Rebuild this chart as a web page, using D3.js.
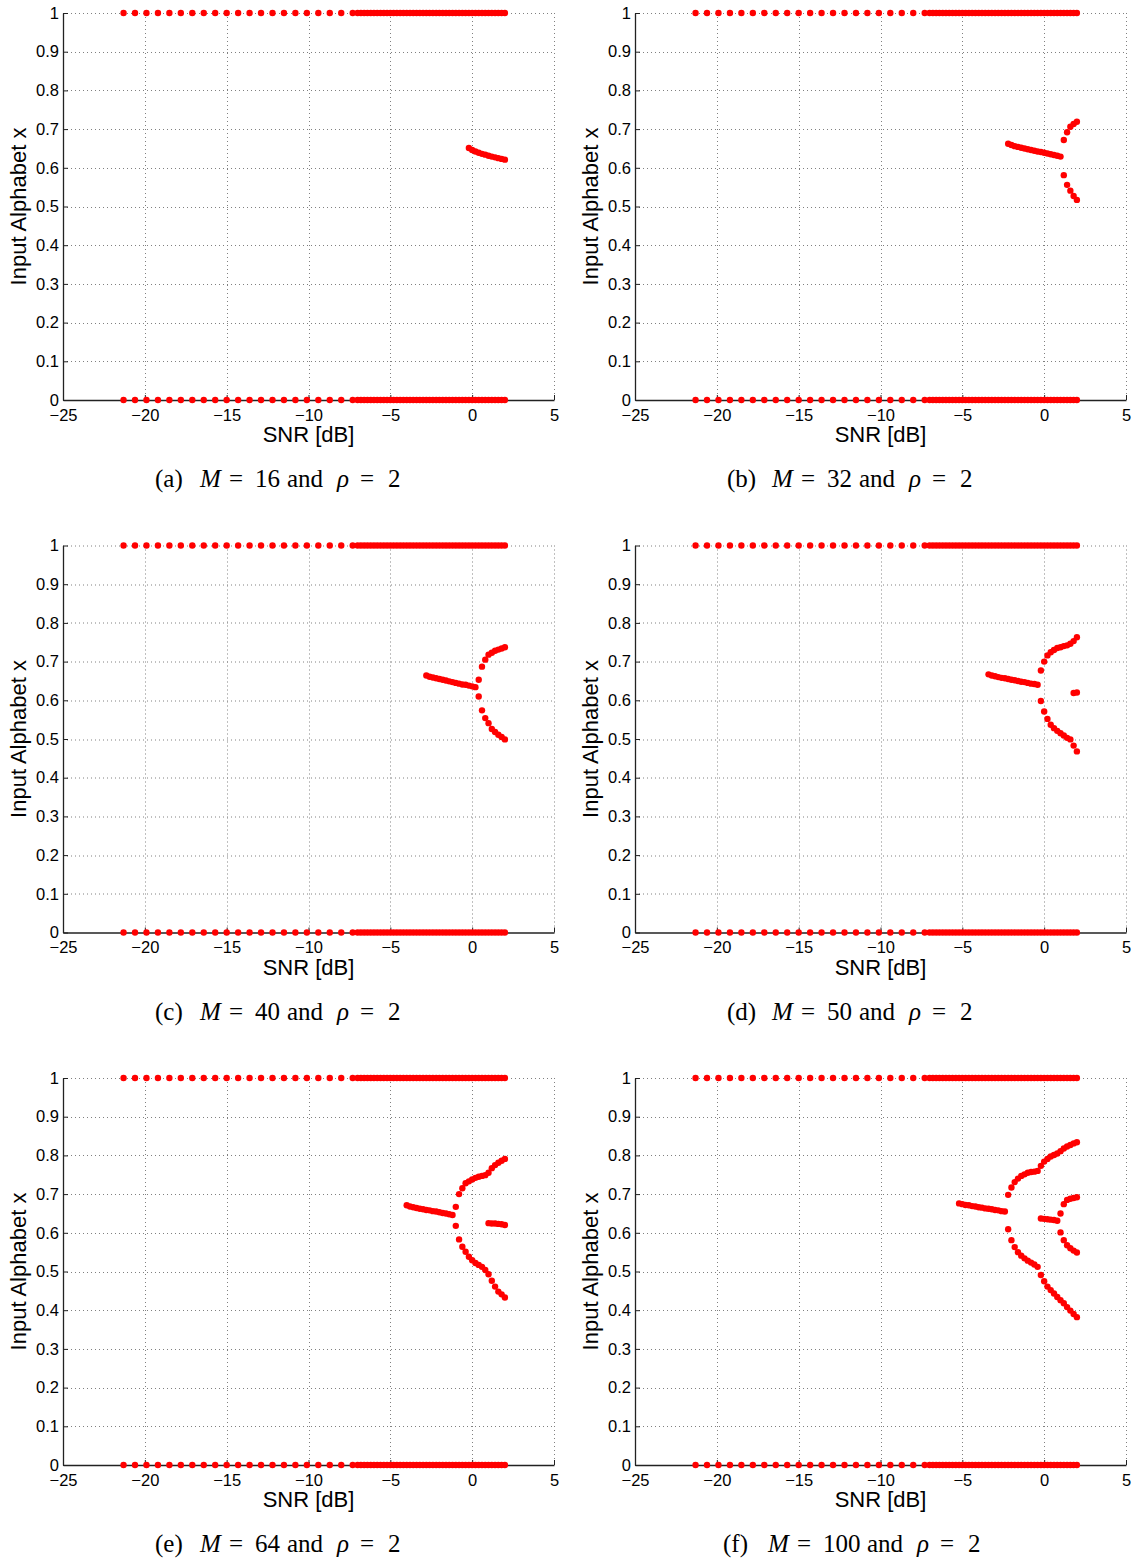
<!DOCTYPE html>
<html>
<head>
<meta charset="utf-8">
<script src="https://cdn.jsdelivr.net/npm/d3@7"></script>
<style>
  html, body { margin: 0; padding: 0; background: #fff; }
  svg { display: block; }
</style>
</head>
<body>
<svg id="chart" width="1138" height="1562"></svg>
<script>
// ---------------- DATA ----------------
// SNR grid [dB]: sparse part and dense part (points at x = 0 and x = 1 in every panel)
const snrSparse = [-21.3,-20.6,-19.9,-19.2,-18.5,-17.8,-17.1,-16.4,-15.7,-15.0,-14.3,-13.6,-12.9,-12.2,-11.5,-10.8,-10.1,-9.4,-8.7,-8.0,-7.3];
const snrDense = [-7.0,-6.8,-6.6,-6.4,-6.2,-6.0,-5.8,-5.6,-5.4,-5.2,-5.0,-4.8,-4.6,-4.4,-4.2,-4.0,-3.8,-3.6,-3.4,-3.2,-3.0,-2.8,-2.6,-2.4,-2.2,-2.0,-1.8,-1.6,-1.4,-1.2,-1.0,-0.8,-0.6,-0.4,-0.2,0.0,0.2,0.4,0.6,0.8,1.0,1.2,1.4,1.6,1.8,2.0];
const boundaryLevels = [0, 1];

// Interior mass points [snr, x]
// (a) M = 16
const m16Mid = [[-0.2,0.651],[0.0,0.646],[0.2,0.642],[0.4,0.639],[0.6,0.636],[0.8,0.634],[1.0,0.631],[1.2,0.629],[1.4,0.627],[1.6,0.625],[1.8,0.623],[2.0,0.621]];
// (b) M = 32
const m32Mid = [[-2.2,0.662],[-2.0,0.659],[-1.8,0.656],[-1.6,0.654],[-1.4,0.652],[-1.2,0.650],[-1.0,0.648],[-0.8,0.646],[-0.6,0.644],[-0.4,0.642],[-0.2,0.641],[0.0,0.639],[0.2,0.637],[0.4,0.635],[0.6,0.633],[0.8,0.631],[1.0,0.629]];
const m32Up = [[1.2,0.672],[1.4,0.692],[1.6,0.706],[1.8,0.713],[2.0,0.719]];
const m32Low = [[1.2,0.581],[1.4,0.556],[1.6,0.541],[1.8,0.527],[2.0,0.517]];
// (c) M = 40
const m40Mid = [[-2.8,0.664],[-2.6,0.661],[-2.4,0.659],[-2.2,0.657],[-2.0,0.655],[-1.8,0.653],[-1.6,0.651],[-1.4,0.649],[-1.2,0.647],[-1.0,0.645],[-0.8,0.643],[-0.6,0.641],[-0.4,0.640],[-0.2,0.638],[0.0,0.636],[0.2,0.634]];
const m40Up = [[0.4,0.653],[0.6,0.687],[0.8,0.705],[1.0,0.718],[1.2,0.723],[1.4,0.728],[1.6,0.731],[1.8,0.734],[2.0,0.737]];
const m40Low = [[0.4,0.610],[0.6,0.574],[0.8,0.554],[1.0,0.541],[1.2,0.526],[1.4,0.518],[1.6,0.511],[1.8,0.505],[2.0,0.499]];
// (d) M = 50
const m50Mid = [[-3.4,0.667],[-3.2,0.664],[-3.0,0.662],[-2.8,0.660],[-2.6,0.658],[-2.4,0.657],[-2.2,0.655],[-2.0,0.653],[-1.8,0.652],[-1.6,0.650],[-1.4,0.648],[-1.2,0.647],[-1.0,0.645],[-0.8,0.643],[-0.6,0.642],[-0.4,0.640]];
const m50Up = [[-0.2,0.677],[0.0,0.700],[0.2,0.716],[0.4,0.724],[0.6,0.730],[0.8,0.735],[1.0,0.737],[1.2,0.740],[1.4,0.742],[1.6,0.746],[1.8,0.753],[2.0,0.763]];
const m50Inner = [[1.8,0.619],[2.0,0.620]];
const m50Low = [[-0.2,0.598],[0.0,0.571],[0.2,0.552],[0.4,0.537],[0.6,0.528],[0.8,0.521],[1.0,0.515],[1.2,0.509],[1.4,0.503],[1.6,0.499],[1.8,0.483],[2.0,0.468]];
// (e) M = 64
const m64Mid = [[-4.0,0.671],[-3.8,0.668],[-3.6,0.666],[-3.4,0.664],[-3.2,0.662],[-3.0,0.661],[-2.8,0.659],[-2.6,0.658],[-2.4,0.656],[-2.2,0.655],[-2.0,0.653],[-1.8,0.651],[-1.6,0.650],[-1.4,0.648],[-1.2,0.646]];
const m64Up = [[-1.0,0.667],[-0.8,0.700],[-0.6,0.715],[-0.4,0.728],[-0.2,0.733],[0.0,0.738],[0.2,0.742],[0.4,0.745],[0.6,0.747],[0.8,0.749],[1.0,0.755],[1.2,0.767],[1.4,0.775],[1.6,0.781],[1.8,0.786],[2.0,0.791]];
const m64Inner = [[1.0,0.625],[1.2,0.624],[1.4,0.624],[1.6,0.623],[1.8,0.622],[2.0,0.620]];
const m64Low = [[-1.0,0.618],[-0.8,0.583],[-0.6,0.564],[-0.4,0.551],[-0.2,0.538],[0.0,0.529],[0.2,0.522],[0.4,0.517],[0.6,0.512],[0.8,0.504],[1.0,0.493],[1.2,0.476],[1.4,0.461],[1.6,0.448],[1.8,0.441],[2.0,0.433]];
// (f) M = 100
const m100Mid = [[-5.2,0.676],[-5.0,0.674],[-4.8,0.672],[-4.6,0.671],[-4.4,0.669],[-4.2,0.668],[-4.0,0.666],[-3.8,0.665],[-3.6,0.663],[-3.4,0.662],[-3.2,0.661],[-3.0,0.659],[-2.8,0.658],[-2.6,0.656],[-2.4,0.655]];
const m100Up = [[-2.2,0.698],[-2.0,0.717],[-1.8,0.731],[-1.6,0.740],[-1.4,0.747],[-1.2,0.751],[-1.0,0.755],[-0.8,0.757],[-0.6,0.758],[-0.4,0.760],[-0.2,0.773],[0.0,0.784],[0.2,0.791],[0.4,0.797],[0.6,0.801],[0.8,0.805],[1.0,0.811],[1.2,0.818],[1.4,0.823],[1.6,0.827],[1.8,0.831],[2.0,0.834]];
const m100Inner = [[-0.2,0.637],[0.0,0.636],[0.2,0.635],[0.4,0.634],[0.6,0.633],[0.8,0.631]];
const m100InnerUp = [[1.0,0.650],[1.2,0.674],[1.4,0.685],[1.6,0.688],[1.8,0.690],[2.0,0.692]];
const m100InnerLow = [[1.0,0.601],[1.2,0.581],[1.4,0.568],[1.6,0.560],[1.8,0.554],[2.0,0.549]];
const m100LowMid = [[-2.2,0.609],[-2.0,0.581],[-1.8,0.563],[-1.6,0.550],[-1.4,0.541],[-1.2,0.534],[-1.0,0.528],[-0.8,0.523],[-0.6,0.518],[-0.4,0.512]];
const m100Low = [[-0.2,0.491],[0.0,0.475],[0.2,0.461],[0.4,0.452],[0.6,0.443],[0.8,0.434],[1.0,0.426],[1.2,0.418],[1.4,0.408],[1.6,0.399],[1.8,0.390],[2.0,0.382]];

// Panel descriptors
const panelTags = ["a","b","c","d","e","f"];
const panelM = [16, 32, 40, 50, 64, 100];
const panelRho = [2, 2, 2, 2, 2, 2];
const panelBranches = [
  [m16Mid],
  [m32Mid, m32Up, m32Low],
  [m40Mid, m40Up, m40Low],
  [m50Mid, m50Up, m50Inner, m50Low],
  [m64Mid, m64Up, m64Inner, m64Low],
  [m100Mid, m100Up, m100Inner, m100InnerUp, m100InnerLow, m100LowMid, m100Low]
];

// Axes ticks
const xTicks = [-25, -20, -15, -10, -5, 0, 5];
const yTicks = [0, 0.1, 0.2, 0.3, 0.4, 0.5, 0.6, 0.7, 0.8, 0.9, 1];
const xLabel = "SNR [dB]";
const yLabel = "Input Alphabet x";

// ---------------- LAYOUT ----------------
const W = 491, H = 387;
const colX = [63, 635];
const rowY = [13, 545.5, 1078];
const sansFont = "'Liberation Sans', Arial, Helvetica, sans-serif";
const serifFont = "'Liberation Serif', 'Times New Roman', serif";
const red = "#ff0000";
const dotR = 3.2;

const x = d3.scaleLinear().domain([-25, 5]).range([0, W]);
const y = d3.scaleLinear().domain([0, 1]).range([H, 0]);

const svg = d3.select("#chart");

const fmtX = d => (d < 0 ? "\u2212" + Math.abs(d) : String(d));
const fmtY = d => (d === 0 ? "0" : d === 1 ? "1" : d3.format(".1f")(d));

panelTags.forEach((tag, i) => {
  const col = i % 2, row = Math.floor(i / 2);
  const g = svg.append("g").attr("transform", `translate(${colX[col]},${rowY[row]})`);

  // grid (dotted)
  const grid = g.append("g").attr("class", "grid");
  grid.selectAll("line.gx").data(xTicks.filter(d => d !== -25)).enter().append("line")
    .attr("x1", d => Math.round(x(d)) + 0.5).attr("x2", d => Math.round(x(d)) + 0.5)
    .attr("y1", 0).attr("y2", H)
    .attr("stroke", "#808080").attr("stroke-width", 1).attr("stroke-dasharray", "1,3");
  grid.selectAll("line.gy").data(yTicks.filter(d => d !== 0)).enter().append("line")
    .attr("x1", 0).attr("x2", W)
    .attr("y1", d => Math.round(y(d)) + 0.5).attr("y2", d => Math.round(y(d)) + 0.5)
    .attr("stroke", "#808080").attr("stroke-width", 1).attr("stroke-dasharray", "1,3");

  // axes
  const xAxis = d3.axisBottom(x).tickValues(xTicks).tickFormat(fmtX).tickSizeInner(-5).tickSizeOuter(0).tickPadding(9);
  const yAxis = d3.axisLeft(y).tickValues(yTicks).tickFormat(fmtY).tickSizeInner(-5).tickSizeOuter(0).tickPadding(4);

  const gx = g.append("g").attr("transform", `translate(0,${H})`).call(xAxis);
  const gy = g.append("g").call(yAxis);
  [gx, gy].forEach(a => {
    a.select(".domain").attr("stroke", "#222").attr("stroke-width", 1.3);
    a.selectAll(".tick line").attr("stroke", "#222");
    a.selectAll(".tick text").attr("fill", "#000").style("font-family", sansFont).style("font-size", "16.5px");
  });

  // boundary points at x=0 and x=1
  const dots = g.append("g");
  boundaryLevels.forEach(lv => {
    dots.selectAll(null).data(snrSparse.concat(snrDense)).enter().append("circle")
      .attr("cx", d => x(d)).attr("cy", y(lv)).attr("r", dotR).attr("fill", red);
  });
  // interior branches
  panelBranches[i].forEach(br => {
    dots.selectAll(null).data(br).enter().append("circle")
      .attr("cx", d => x(d[0])).attr("cy", d => y(d[1])).attr("r", dotR).attr("fill", red);
  });

  // axis labels
  g.append("text").attr("x", W / 2).attr("y", H + 42)
    .attr("text-anchor", "middle").style("font-family", sansFont).style("font-size", "22px")
    .text(xLabel);
  g.append("text").attr("transform", `translate(-37,${H / 2}) rotate(-90)`)
    .attr("text-anchor", "middle").style("font-family", sansFont).style("font-size", "22px")
    .text(yLabel);

  // caption
  const three = panelM[i] >= 100;
  const c0 = three ? 88 : 92;
  const extra = three ? 12 : 0;
  const cap = g.append("text").attr("x", c0).attr("y", H + 87)
    .style("font-family", serifFont).style("font-size", "25px").attr("fill", "#000");
  cap.append("tspan").text(`(${tag})`);
  cap.append("tspan").attr("x", c0 + 45).style("font-style", "italic").text("M");
  cap.append("tspan").attr("x", c0 + 74).text("=");
  cap.append("tspan").attr("x", c0 + 100).text(String(panelM[i]));
  cap.append("tspan").attr("x", c0 + 132 + extra).text("and");
  cap.append("tspan").attr("x", c0 + 182 + extra).style("font-style", "italic").text("\u03c1");
  cap.append("tspan").attr("x", c0 + 205 + extra).text("=");
  cap.append("tspan").attr("x", c0 + 233 + extra).text(String(panelRho[i]));
});
</script>
</body>
</html>
